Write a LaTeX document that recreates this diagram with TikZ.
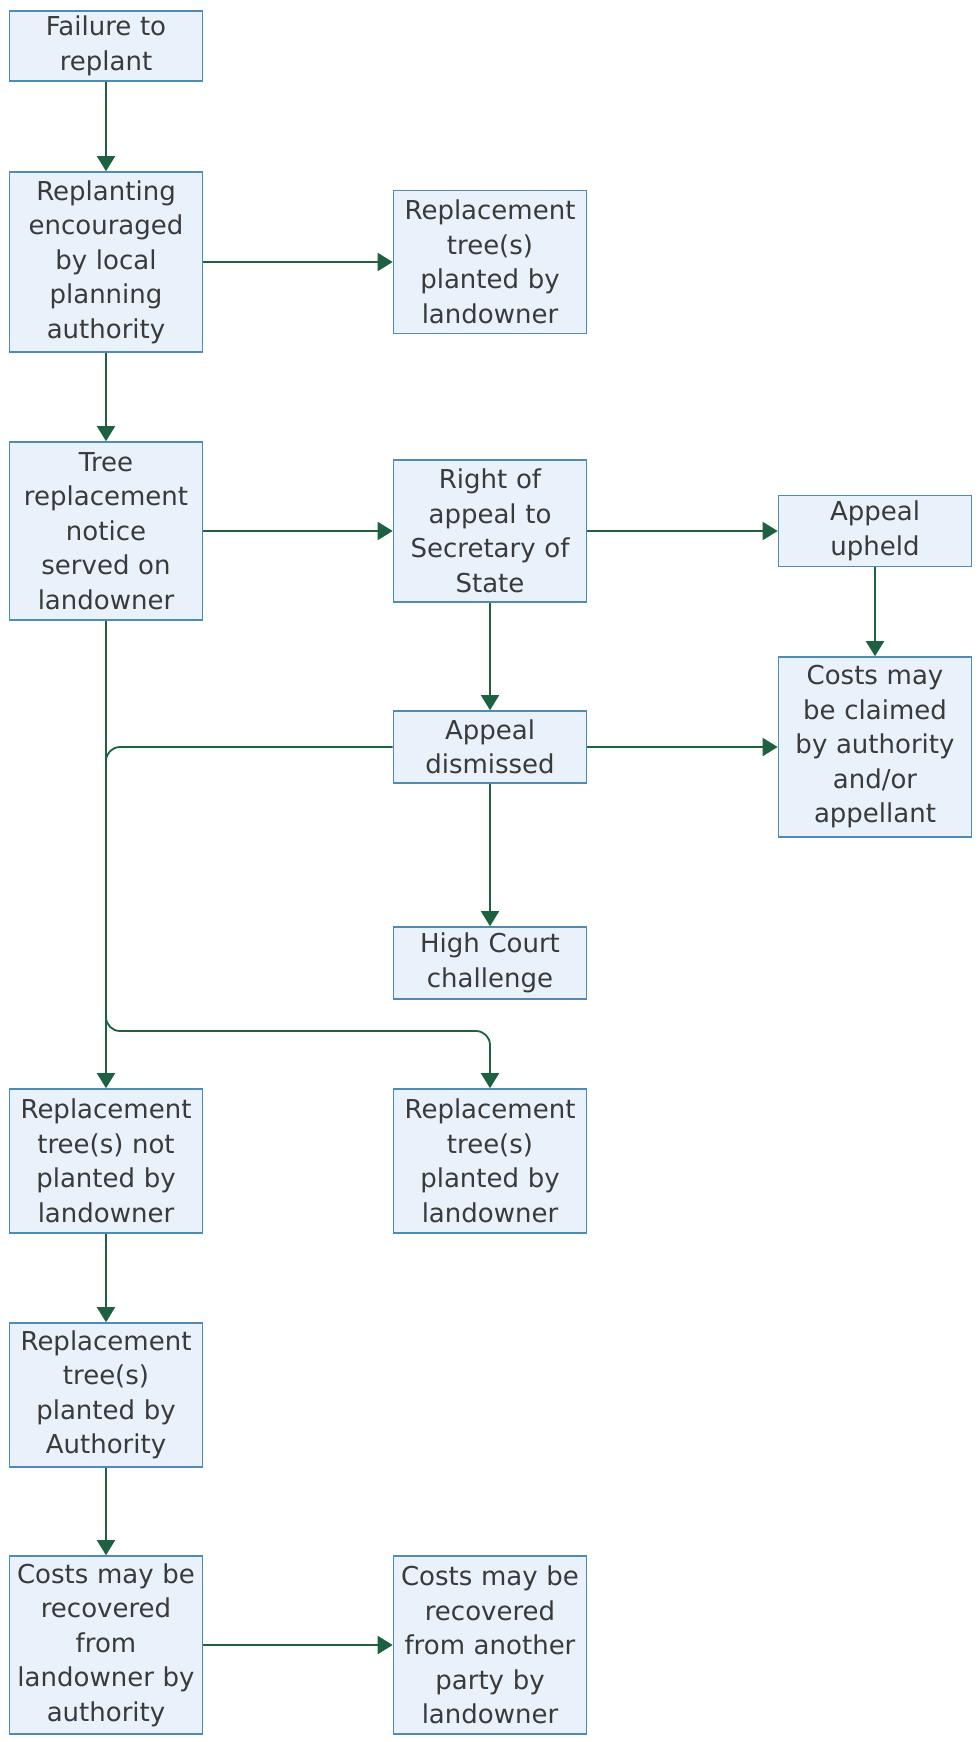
\documentclass[tikz,border=0pt]{standalone}
\usepackage{fontspec}
\setmainfont{DejaVu Sans}
\usetikzlibrary{arrows.meta}
\definecolor{boxline}{HTML}{4F8BB5}
\definecolor{boxfill}{HTML}{E9F1FB}
\definecolor{arrowgreen}{HTML}{1D6140}
\definecolor{textgray}{HTML}{3A3A3A}

\begin{document}
\begin{tikzpicture}[x=1pt,y=-1pt,
  stage/.style={draw=boxline, fill=boxfill, line width=1.6pt, text=textgray,
    text width=185pt, inner xsep=4pt, inner ysep=0pt, align=center,
    font=\fontsize{26}{34.5}\selectfont},
  flow/.style={draw=arrowgreen, line width=1.8pt, -{Triangle[width=18pt,length=15pt]}}]
\useasboundingbox (0,0) rectangle (978,1742);
\node [stage, minimum height=70pt] (fail) at (106,46) {Failure to\\replant};
\node [stage, minimum height=180pt] (encourage) at (106,262) {Replanting\\encouraged\\by local\\planning\\authority};
\node [stage, minimum height=143pt] (plantedA) at (490,262) {Replacement\\tree(s)\\planted by\\landowner};
\node [stage, minimum height=178pt] (notice) at (106,531) {Tree\\replacement\\notice\\served on\\landowner};
\node [stage, minimum height=142pt] (appeal) at (490,531) {Right of\\appeal to\\Secretary of\\State};
\node [stage, minimum height=71pt] (upheld) at (875,531) {Appeal\\upheld};
\node [stage, minimum height=180pt] (claimed) at (875,747) {Costs may\\be claimed\\by authority\\and/or\\appellant};
\node [stage, minimum height=72pt] (dismissed) at (490,747) {Appeal\\dismissed};
\node [stage, minimum height=72pt] (court) at (490,963) {High Court\\challenge};
\node [stage, minimum height=144pt] (notplanted) at (106,1161) {Replacement\\tree(s) not\\planted by\\landowner};
\node [stage, minimum height=144pt] (plantedB) at (490,1161) {Replacement\\tree(s)\\planted by\\landowner};
\node [stage, minimum height=144pt] (authority) at (106,1395) {Replacement\\tree(s)\\planted by\\Authority};
\node [stage, minimum height=178pt] (fromowner) at (106,1645) {Costs may be\\recovered\\from\\landowner by\\authority};
\node [stage, minimum height=178pt] (fromparty) at (490,1645) {Costs may be\\recovered\\from another\\party by\\landowner};
\coordinate (join) at (106,747);
\coordinate (split) at (106,1031);
\coordinate (turn) at (490,1031);
\draw [flow] (fail) -- (encourage);
\draw [flow] (encourage) -- (plantedA);
\draw [flow] (encourage) -- (notice);
\draw [flow] (notice) -- (appeal);
\draw [flow] (appeal) -- (upheld);
\draw [flow] (upheld) -- (claimed);
\draw [flow] (appeal) -- (dismissed);
\draw [flow] (dismissed) -- (claimed);
\draw [flow] (dismissed) -- (court);
\draw [flow] (notice) -- (notplanted);
\draw [flow, rounded corners=14pt] (dismissed.west) -- (join) -- (split) -- (turn) -- (plantedB);
\draw [flow] (notplanted) -- (authority);
\draw [flow] (authority) -- (fromowner);
\draw [flow] (fromowner) -- (fromparty);
\end{tikzpicture}
\end{document}
